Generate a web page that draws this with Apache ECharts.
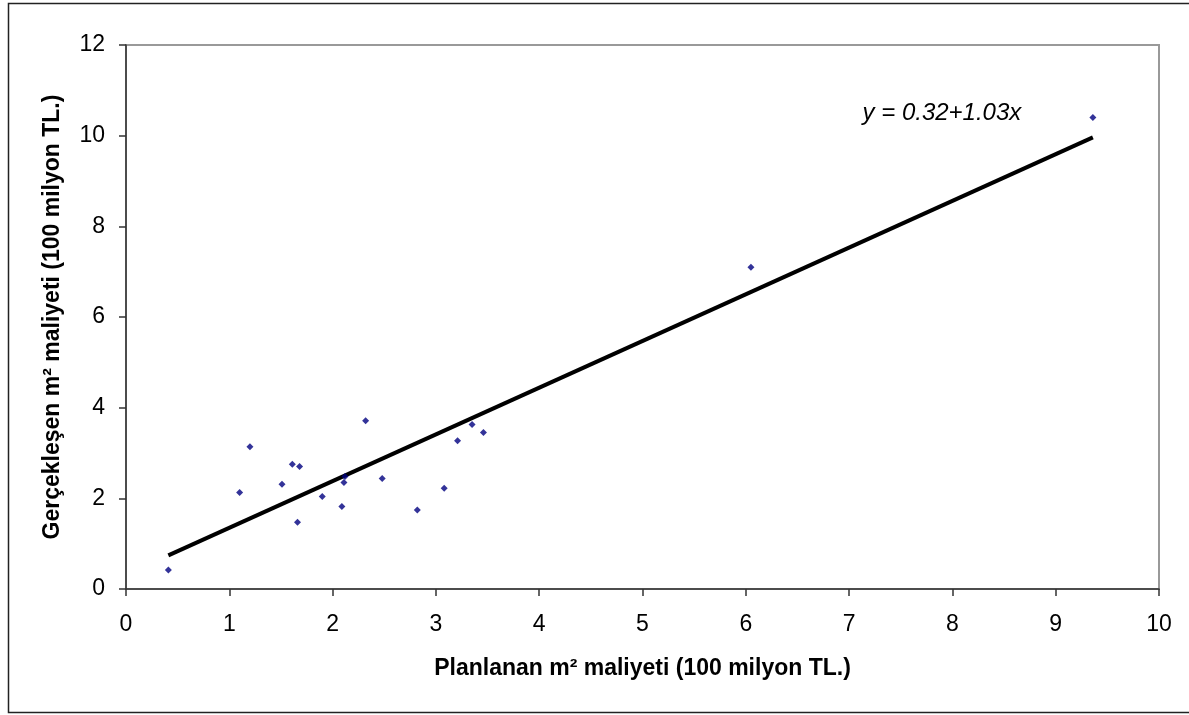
<!DOCTYPE html>
<html>
<head>
<meta charset="utf-8">
<script src="https://cdn.jsdelivr.net/npm/echarts@6/dist/echarts.min.js"></script>
<style>
  html, body { margin: 0; padding: 0; background: #fff; }
  #chart { width: 1189px; height: 715px; }
</style>
</head>
<body>
<div id="chart"></div>
<script>
// planlanan (x) ve gerçekleşen (y) m² maliyetleri
const planlanan = [0.41, 1.10, 1.20, 1.51, 1.61, 1.68, 1.66, 1.90, 2.09, 2.11, 2.12, 2.32, 2.48, 2.82, 3.08, 3.21, 3.35, 3.46, 6.05, 9.36];
const gerceklesen = [0.42, 2.13, 3.14, 2.31, 2.75, 2.70, 1.47, 2.04, 1.82, 2.35, 2.48, 3.71, 2.44, 1.74, 2.22, 3.27, 3.63, 3.45, 7.10, 10.40];
// regresyon katsayıları
const intercept = 0.32;
const slope = 1.03;
const xTicks = [0, 1, 2, 3, 4, 5, 6, 7, 8, 9, 10];
const yTicks = [0, 2, 4, 6, 8, 10, 12];

(function () {
  const myChart = echarts.init(document.getElementById('chart'));
  const points = planlanan.map((x, i) => [x, gerceklesen[i]]);
  const xMin = Math.min(...planlanan);
  const xMax = Math.max(...planlanan);
  const fitLine = [[xMin, intercept + slope * xMin], [xMax, intercept + slope * xMax]];

  const font = 'Liberation Sans, Arial, sans-serif';
  const titleStyle = { fontFamily: font, fontSize: 23, fontWeight: 'bold', color: '#000' };

  let option = {
    animation: false,
    backgroundColor: '#fff',
    graphic: [{
      type: 'rect',
      shape: { x: 8.5, y: 3.5, width: 1200, height: 709 },
      style: { fill: 'none', stroke: '#222', lineWidth: 1.5 },
      silent: true
    }],
    grid: {
      left: 126,
      right: 30,
      top: 45,
      bottom: 126,
      show: true,
      borderColor: '#999',
      borderWidth: 2
    },
    xAxis: {
      type: 'value',
      min: xTicks[0],
      max: xTicks[xTicks.length - 1],
      interval: 1,
      name: 'Planlanan m² maliyeti (100 milyon TL.)',
      nameLocation: 'middle',
      nameGap: 68,
      nameTextStyle: titleStyle,
      axisLine: { onZero: false, lineStyle: { color: '#333', width: 1.5 } },
      axisTick: { inside: false, length: 7, lineStyle: { color: '#333', width: 1.5 } },
      axisLabel: { margin: 24, fontFamily: font, fontSize: 23, color: '#000' },
      splitLine: { show: false }
    },
    yAxis: {
      type: 'value',
      min: yTicks[0],
      max: yTicks[yTicks.length - 1],
      interval: 2,
      name: 'Gerçekleşen m² maliyeti (100 milyon TL.)',
      nameLocation: 'middle',
      nameGap: 62,
      nameTextStyle: titleStyle,
      axisLine: { show: true, onZero: false, lineStyle: { color: '#333', width: 1.5 } },
      axisTick: { show: true, length: 7, lineStyle: { color: '#333', width: 1.5 } },
      axisLabel: { margin: 21, fontFamily: font, fontSize: 23, color: '#000' },
      splitLine: { show: false }
    },
    series: [{
      name: 'fit',
      type: 'line',
      data: fitLine,
      symbol: 'none',
      lineStyle: { color: '#000', width: 4 },
      z: 2,
      markPoint: {
        symbol: 'rect',
        symbolSize: 0,
        data: [{
          coord: [7.13, 10.5],
          label: {
            show: true,
            formatter: 'y = 0.32+1.03x',
            fontFamily: font,
            fontStyle: 'italic',
            fontSize: 24,
            color: '#000',
            position: 'right',
            distance: 0
          }
        }]
      }
    }, {
      name: 'veri',
      type: 'scatter',
      data: points,
      symbol: 'diamond',
      symbolSize: 7,
      itemStyle: { color: '#000080' },
      z: 3
    }]
  };
  myChart.setOption(option);
  window.addEventListener('resize', function () {
    myChart.resize();
  });
})();
</script>
</body>
</html>
